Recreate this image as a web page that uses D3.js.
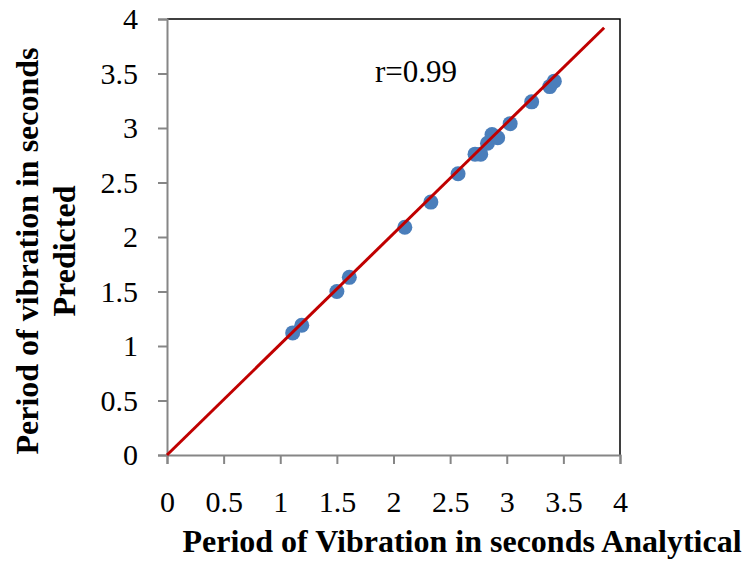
<!DOCTYPE html>
<html>
<head>
<meta charset="utf-8">
<script src="https://cdn.jsdelivr.net/npm/d3@7"></script>
<style>
  body { margin: 0; background: #fff; }
  text { font-family: "Liberation Serif", "Times New Roman", serif; }
</style>
</head>
<body>
<script>
// analytical vs predicted period (s)
var analytical = [1.11, 1.19, 1.50, 1.61, 2.10, 2.33, 2.57, 2.72, 2.77, 2.83, 2.87, 2.92, 3.03, 3.22, 3.38, 3.42];
var predicted  = [1.12, 1.19, 1.50, 1.63, 2.09, 2.32, 2.58, 2.76, 2.76, 2.86, 2.94, 2.91, 3.04, 3.24, 3.38, 3.43];
var fitLine = [[0, 0], [3.86, 3.92]];
var xTicks = [0, 0.5, 1, 1.5, 2, 2.5, 3, 3.5, 4];
var yTicks = [0, 0.5, 1, 1.5, 2, 2.5, 3, 3.5, 4];
var annotation = "r=0.99";

var W = 745, H = 561;
var plotL = 167, plotR = 620, plotT = 19, plotB = 455;

var svg = d3.select("body").append("svg")
  .attr("width", W)
  .attr("height", H);

var x = d3.scaleLinear().domain([0, 4]).range([plotL, plotR]);
var y = d3.scaleLinear().domain([0, 4]).range([plotB, plotT]);

// frame top/right
svg.append("path")
  .attr("d", "M" + plotL + "," + plotT + "H" + plotR + "V" + plotB)
  .attr("fill", "none")
  .attr("stroke", "#000")
  .attr("stroke-width", 1.5);

var xAxis = svg.append("g")
  .attr("transform", "translate(0," + plotB + ")")
  .call(d3.axisBottom(x).tickValues(xTicks).tickSize(9).tickPadding(27).tickFormat(d3.format("")));
var yAxis = svg.append("g")
  .attr("transform", "translate(" + plotL + ",0)")
  .call(d3.axisLeft(y).tickValues(yTicks).tickSize(9).tickPadding(20).tickFormat(d3.format("")));

[xAxis, yAxis].forEach(function(a){
  a.select(".domain").attr("stroke", "#868686").attr("stroke-width", 2);
  a.selectAll(".tick line").attr("stroke", "#868686").attr("stroke-width", 2);
  a.selectAll(".tick text")
    .attr("fill", "#000")
    .style("font-family", "'Liberation Serif', serif")
    .style("font-size", "30px");
});

var pts = analytical.map(function(d, i){ return {x: d, y: predicted[i]}; });
svg.selectAll("circle.pt")
  .data(pts)
  .enter()
  .append("circle")
  .attr("class", "pt")
  .attr("cx", function(d){ return x(d.x); })
  .attr("cy", function(d){ return y(d.y); })
  .attr("r", 7.5)
  .attr("fill", "#4a7ebb");

svg.append("path")
  .datum(fitLine)
  .attr("d", d3.line().x(function(d){ return x(d[0]); }).y(function(d){ return y(d[1]); }))
  .attr("fill", "none")
  .attr("stroke", "#c00000")
  .attr("stroke-width", 3);

svg.append("text")
  .attr("x", 375)
  .attr("y", 82)
  .style("font-size", "31px")
  .text(annotation);

svg.append("text")
  .attr("x", 462)
  .attr("y", 552)
  .attr("text-anchor", "middle")
  .style("font-size", "32px")
  .style("font-weight", "bold")
  .text("Period of Vibration in seconds Analytical");

var yl = svg.append("text")
  .attr("transform", "translate(0,251) rotate(-90)")
  .attr("text-anchor", "middle")
  .style("font-size", "32px")
  .style("font-weight", "bold");
yl.append("tspan").attr("x", 0).attr("y", 38).text("Period of vibration in seconds");
yl.append("tspan").attr("x", 0).attr("y", 75).text("Predicted");
</script>
</body>
</html>
